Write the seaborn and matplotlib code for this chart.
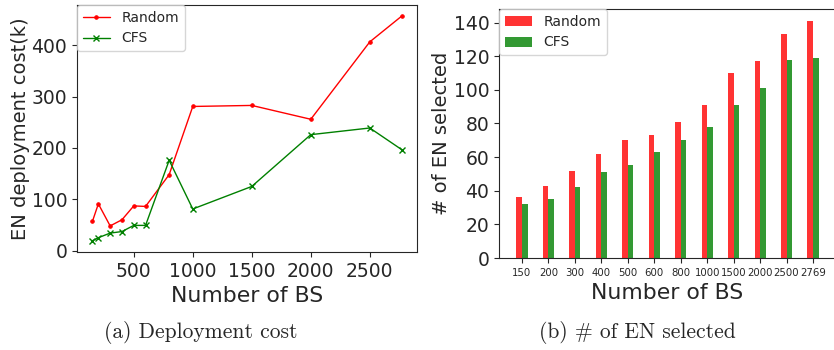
import pandas as pd
import matplotlib
matplotlib.use("Agg")
import matplotlib.pyplot as plt
import seaborn as sns


# DADOS:

bs = [150, 200, 300, 400, 500, 600, 800, 1000, 1500, 2000, 2500, 2769]
cost_random = [57, 91, 48, 60, 87, 86, 148, 281, 283, 256, 407, 457]
cost_cfs = [19, 25, 34, 37, 49, 49, 176, 81, 125, 226, 239, 197]
en_random = [36, 43, 52, 62, 70, 73, 81, 91, 110, 117, 133, 141]
en_cfs = [32, 35, 42, 51, 55, 63, 70, 78, 91, 101, 118, 119]
methods = ["Random", "CFS"]
bs_labels = [str(b) for b in bs]

df_bar = pd.DataFrame({
    "bs": bs_labels * 2,
    "n": en_random + en_cfs,
    "method": ["Random"] * len(bs) + ["CFS"] * len(bs),
})

sns.set_style("ticks")
plt.rcParams['font.family'] = ['DejaVu Sans']

fig = plt.figure(figsize=(8.34, 3.5), dpi=100)
ax1 = fig.add_axes([77 / 834, 1 - 252 / 350, 340 / 834, 247 / 350])
ax2 = fig.add_axes([499 / 834, 1 - 258 / 350, 337 / 834, 249 / 350])


# (a) CUSTO DE IMPLANTAÇÃO:

sns.lineplot(x=bs, y=cost_random, color='red', marker='.', markersize=5,
             markeredgecolor='red', linewidth=1, label='Random', ax=ax1)
sns.lineplot(x=bs, y=cost_cfs, color='green', marker='x', markersize=4,
             markeredgecolor='green', markeredgewidth=1, linewidth=1,
             label='CFS', ax=ax1)
ax1.set_xticks([500, 1000, 1500, 2000, 2500])
ax1.set_yticks([0, 100, 200, 300, 400])
ax1.tick_params(labelsize=13.5)
ax1.set_xlabel("Number of BS", fontsize=15.8)
ax1.set_ylabel("EN deployment cost(k)", fontsize=14, labelpad=1)
ax1.legend(loc='upper left', fontsize=10, borderaxespad=0)


# (b) NÚMERO DE EN SELECIONADOS:

sns.barplot(data=df_bar, x="bs", y="n", hue="method", order=bs_labels,
            hue_order=methods, palette={"Random": "red", "CFS": "green"},
            saturation=1, alpha=0.8, width=0.42, linewidth=0, ax=ax2)
ax2.set_xlim(-0.87, 11.87)
ax2.set_yticks(range(0, 141, 20))
ax2.tick_params(axis='y', labelsize=13.5)
ax2.tick_params(axis='x', labelsize=7.3)
ax2.set_xlabel("Number of BS", fontsize=15.8)
ax2.set_ylabel("# of EN selected", fontsize=14, labelpad=2)
ax2.legend(loc='upper left', fontsize=10, borderaxespad=0, title=None)


# LEGENDAS DAS FIGURAS:

cap_font = ['cmr10', 'DejaVu Serif']
fig.text(201 / 834, 0.051, "(a) Deployment cost", ha='center', va='center',
         family=cap_font, fontsize=15.5)
fig.text(637 / 834, 0.051, "(b) # of EN selected", ha='center', va='center',
         family=cap_font, fontsize=15.5)

fig.savefig("out.png", dpi=100)
